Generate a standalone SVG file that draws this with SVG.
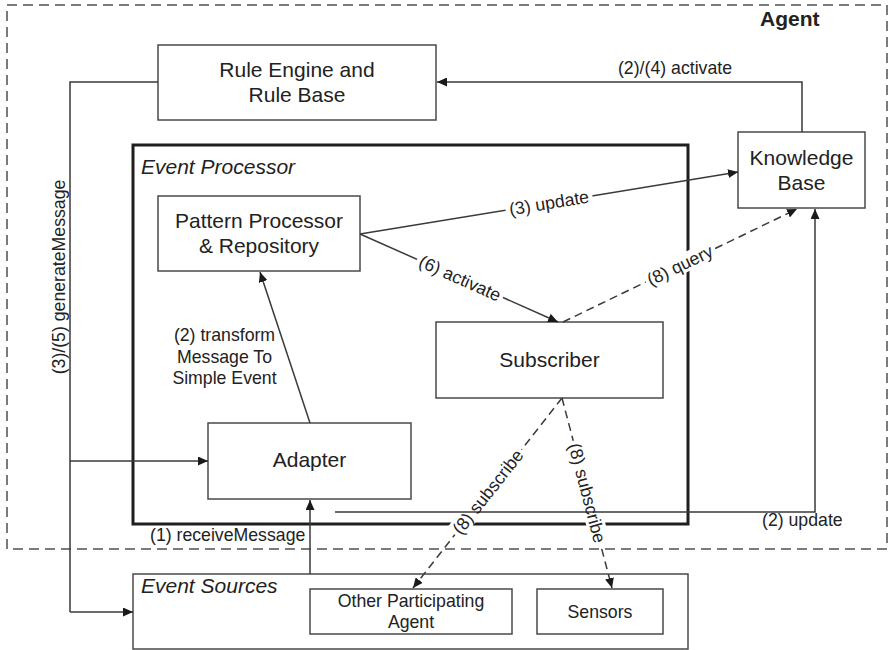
<svg xmlns="http://www.w3.org/2000/svg" width="889" height="650" viewBox="0 0 889 650">
  <defs>
    <marker id="arrow" markerUnits="userSpaceOnUse" markerWidth="11" markerHeight="9" refX="10" refY="4.5" orient="auto">
      <path d="M0,0 L10,4.5 L0,9 z" fill="#1a1a1a"/>
    </marker>
    <style>
      .box { fill: #ffffff; stroke: #4a4a4a; stroke-width: 1.5; }
      .frame { fill: none; stroke: #1e1e1e; stroke-width: 3; }
      .agent { fill: none; stroke: #505050; stroke-width: 1.5; stroke-dasharray: 10 6; }
      .line { fill: none; stroke: #3a3a3a; stroke-width: 1.5; }
      .dash { fill: none; stroke: #3a3a3a; stroke-width: 1.5; stroke-dasharray: 8 5; }
      .arr { marker-end: url(#arrow); }
      .node { font-family: "Liberation Sans", Arial, sans-serif; font-size: 21px; fill: #222; text-anchor: middle; }
      .small { font-family: "Liberation Sans", Arial, sans-serif; font-size: 17.7px; fill: #222; text-anchor: middle; }
      .title { font-family: "Liberation Sans", Arial, sans-serif; font-size: 21px; fill: #222; font-style: italic; }
      .lbl { font-family: "Liberation Sans", Arial, sans-serif; font-size: 17.7px; fill: #222; }
      .mid { text-anchor: middle; }
      .bg { fill: #ffffff; stroke: none; }
    </style>
  </defs>

  <rect width="889" height="650" fill="#ffffff"/>

  <!-- Agent boundary -->
  <g id="agent">
    <rect class="agent" x="7" y="5" width="880" height="544"/>
    <text x="760" y="26" font-family="'Liberation Sans', Arial, sans-serif" font-size="21" font-weight="bold" fill="#222">Agent</text>
  </g>

  <!-- Event Processor container -->
  <g id="event-processor">
    <rect class="frame" x="133" y="145" width="555" height="379"/>
    <text class="title" x="141" y="174">Event Processor</text>
  </g>

  <g id="rule-engine">
    <rect class="box" x="158" y="45" width="278" height="75"/>
    <text class="node" x="297" y="77">Rule Engine and</text>
    <text class="node" x="297" y="102">Rule Base</text>
  </g>

  <g id="knowledge-base">
    <rect class="box" x="738" y="132" width="127" height="76"/>
    <text class="node" x="801.5" y="165">Knowledge</text>
    <text class="node" x="801.5" y="190">Base</text>
  </g>

  <g id="pattern-processor">
    <rect class="box" x="158" y="196" width="202" height="75"/>
    <text class="node" x="259" y="228">Pattern Processor</text>
    <text class="node" x="259" y="253">&amp; Repository</text>
  </g>

  <g id="subscriber">
    <rect class="box" x="436" y="322" width="227" height="76"/>
    <text class="node" x="549.5" y="367">Subscriber</text>
  </g>

  <g id="adapter">
    <rect class="box" x="208" y="423" width="203" height="76"/>
    <text class="node" x="309.5" y="467">Adapter</text>
  </g>

  <g id="event-sources">
    <rect class="box" x="133" y="574" width="555" height="75"/>
    <text class="title" x="141" y="593">Event Sources</text>
  </g>

  <g id="other-agent">
    <rect class="box" x="310" y="589" width="202" height="45"/>
    <text class="small" x="411" y="607">Other Participating</text>
    <text class="small" x="411" y="628">Agent</text>
  </g>

  <g id="sensors">
    <rect class="box" x="537" y="589" width="126" height="45"/>
    <text class="small" x="600" y="618">Sensors</text>
  </g>

  <g id="connectors">
    <!-- (2)/(4) activate -->
    <polyline class="line arr" points="802,132 802,82 437,82"/>
    <!-- (3)/(5) generateMessage -->
    <polyline class="line" points="158,82 70,82 70,612"/>
    <line class="line arr" x1="70" y1="612" x2="133" y2="612"/>
    <line class="line arr" x1="70" y1="461" x2="208" y2="461"/>
    <!-- (1) receiveMessage -->
    <line class="line arr" x1="310" y1="574" x2="310" y2="500"/>
    <!-- (2) transform -->
    <line class="line arr" x1="310" y1="423" x2="260" y2="272"/>
    <!-- (3) update -->
    <line class="line arr" x1="360" y1="234" x2="738" y2="172"/>
    <!-- (6) activate -->
    <line class="line arr" x1="360" y1="234" x2="558" y2="322"/>
    <!-- (8) query -->
    <line class="dash arr" x1="563" y1="322" x2="797" y2="209"/>
    <!-- (8) subscribe -->
    <line class="dash arr" x1="562" y1="398" x2="413" y2="588"/>
    <line class="dash arr" x1="562" y1="398" x2="612" y2="588"/>

    <!-- label backings -->
    <rect class="bg" x="-44" y="-10" width="88" height="19" transform="translate(549,203) rotate(-9.3)"/>
    <rect class="bg" x="-47" y="-10" width="94" height="19" transform="translate(460,278.5) rotate(24.1)"/>
    <rect class="bg" x="-38" y="-10" width="76" height="19" transform="translate(680,265.5) rotate(-25.8)"/>
    <rect class="bg" x="-54" y="-10" width="108" height="19" transform="translate(488,492) rotate(-51.7)"/>
    <rect class="bg" x="-54" y="-10" width="108" height="19" transform="translate(587,493) rotate(75.2)"/>

    <!-- (2) update -->
    <polyline class="line arr" points="335,512 815,512 815,209"/>

    <g id="connector-labels">
      <text class="lbl mid" x="675" y="74">(2)/(4) activate</text>
      <text class="lbl mid" transform="translate(65,277) rotate(-90)">(3)/(5) generateMessage</text>
      <text class="lbl mid" x="224.5" y="341">(2) transform</text>
      <text class="lbl mid" x="224.5" y="363">Message To</text>
      <text class="lbl mid" x="224.5" y="384">Simple Event</text>
      <text class="lbl" x="150" y="541">(1) receiveMessage</text>
      <text class="lbl" x="762" y="526">(2) update</text>
      <text class="lbl mid" transform="translate(549,203) rotate(-9.3)" y="6">(3) update</text>
      <text class="lbl mid" transform="translate(460,278.5) rotate(24.1)" y="6">(6) activate</text>
      <text class="lbl mid" transform="translate(680,265.5) rotate(-25.8)" y="6">(8) query</text>
      <text class="lbl mid" transform="translate(488,492) rotate(-51.7)" y="6">(8) subscribe</text>
      <text class="lbl mid" transform="translate(587,493) rotate(75.2)" y="6">(8) subscribe</text>
    </g>
  </g>
</svg>
